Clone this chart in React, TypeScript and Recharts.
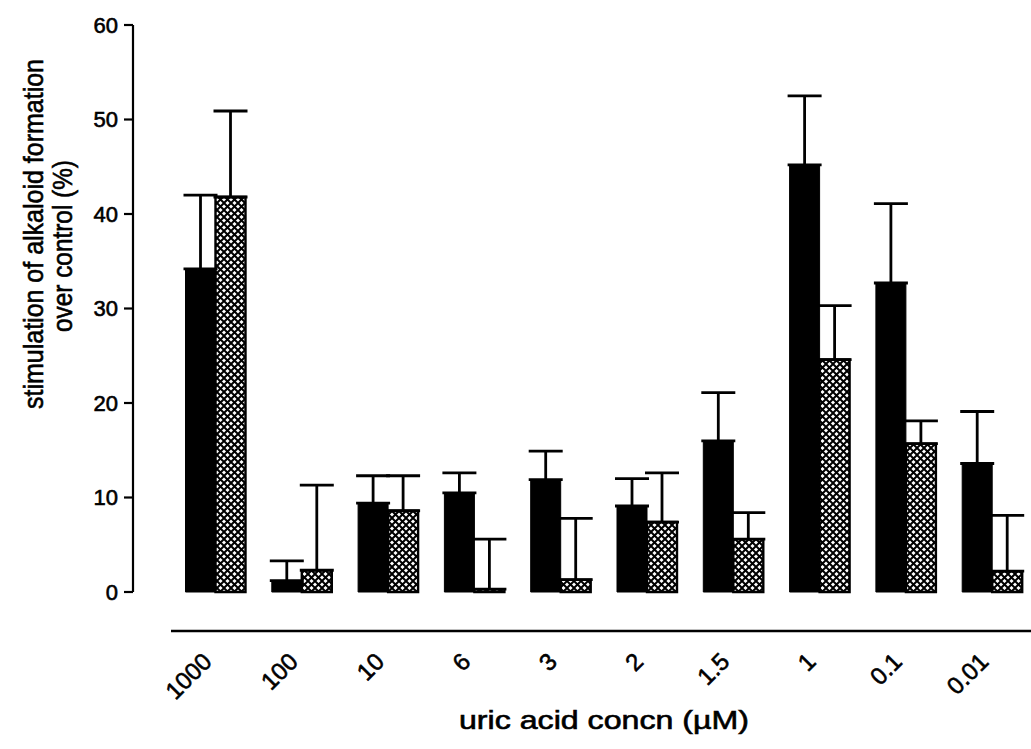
import { BarChart, Bar, XAxis, YAxis, ErrorBar } from "recharts";

const concLabels = ["1000", "100", "10", "6", "3", "2", "1.5", "1", "0.1", "0.01"];
const solidMeans = [34.2, 1.2, 9.4, 10.5, 11.9, 9.1, 16.0, 45.2, 32.7, 13.6];
const solidSem = [7.8, 2.1, 2.9, 2.1, 3.0, 2.9, 5.1, 7.3, 8.4, 5.5];
const hatchedMeans = [41.8, 2.3, 8.6, 0.3, 1.3, 7.4, 5.6, 24.6, 15.7, 2.2];
const hatchedSem = [9.1, 9.0, 3.7, 5.3, 6.5, 5.2, 2.8, 5.7, 2.4, 5.9];
const yTicks = [0, 10, 20, 30, 40, 50, 60];

// upward-only error bars: [below, above]
const data = concLabels.map((conc, i) => ({
  conc,
  solid: solidMeans[i],
  solidErr: [0, solidSem[i]],
  hatched: hatchedMeans[i],
  hatchedErr: [0, hatchedSem[i]],
}));

const font = "'Liberation Sans', Arial, sans-serif";
const PAD_LEFT = 39.5;
// scanned original has heavy glyphs; a thin outline thickens them a bit
const ink = { fill: "#000", stroke: "#000", strokeWidth: 0.6 };

function ConcTick(props: any) {
  const { x, y, payload } = props;
  const tx = x - 2.5;
  const ty = y + 32;
  return (
    <text
      x={tx}
      y={ty}
      transform={`rotate(-45, ${tx}, ${ty})`}
      textAnchor="end"
      fontFamily={font}
      fontSize={24}
      {...ink}
    >
      {payload.value}
    </text>
  );
}

function ValueTick(props: any) {
  const { x, y, payload } = props;
  return (
    <text x={x} y={y} dy="0.36em" textAnchor="end" fontFamily={font} fontSize={22} {...ink}>
      {payload.value}
    </text>
  );
}

function YTitle(props: any) {
  const { viewBox } = props;
  const top = viewBox.y;
  return (
    <g fontFamily={font} fontSize={28} {...ink}>
      <text
        x={43}
        y={top + 209}
        transform={`rotate(-90, 43, ${top + 209})`}
        textAnchor="middle"
        textLength={350}
        lengthAdjust="spacingAndGlyphs"
      >
        stimulation of alkaloid formation
      </text>
      <text
        x={72}
        y={top + 221}
        transform={`rotate(-90, 72, ${top + 221})`}
        textAnchor="middle"
        textLength={172}
        lengthAdjust="spacingAndGlyphs"
      >
        over control (%)
      </text>
    </g>
  );
}

function XTitle(props: any) {
  const { viewBox } = props;
  const cx = viewBox.x + PAD_LEFT + (viewBox.width - PAD_LEFT) / 2;
  return (
    <text
      x={cx}
      y={729}
      textAnchor="middle"
      fontFamily={font}
      fontSize={25}
      textLength={290}
      lengthAdjust="spacingAndGlyphs"
      {...ink}
    >
      uric acid concn (µM)
    </text>
  );
}

export default function App() {
  return (
    <div style={{ width: 1031, height: 749, background: "#fff" }}>
      <style>{"body{margin:0}"}</style>
      <BarChart
        width={1031}
        height={749}
        data={data}
        margin={{ top: 25, right: -4.5, left: 0, bottom: 0 }}
        barSize={30}
        barGap={0}
      >
        <defs>
          <pattern id="xhatch" width={7} height={7} patternUnits="userSpaceOnUse">
            <rect width={7} height={7} fill="#fff" />
            <path d="M0,0 L7,7 M7,0 L0,7" stroke="#000" strokeWidth={2} />
          </pattern>
        </defs>
        <XAxis
          xAxisId="bars"
          dataKey="conc"
          height={39}
          axisLine={false}
          tickLine={false}
          tick={false}
          padding={{ left: PAD_LEFT, right: 0 }}
        />
        <XAxis
          xAxisId="labels"
          dataKey="conc"
          height={118}
          interval={0}
          tickLine={false}
          tickSize={0}
          tickMargin={0}
          axisLine={{ stroke: "#000", strokeWidth: 2.5, strokeDasharray: "0 38 3000" }}
          tick={<ConcTick />}
          padding={{ left: PAD_LEFT, right: 0 }}
          label={<XTitle />}
        />
        <YAxis
          width={133}
          domain={[0, 60]}
          ticks={yTicks}
          interval={0}
          axisLine={{ stroke: "#000", strokeWidth: 2.2 }}
          tickLine={{ stroke: "#000", strokeWidth: 2.2 }}
          tickSize={9}
          tickMargin={6}
          tick={<ValueTick />}
          label={<YTitle />}
        />
        <Bar xAxisId="bars" dataKey="solid" fill="#000" stroke="#000" strokeWidth={1} isAnimationActive={false}>
          <ErrorBar dataKey="solidErr" direction="y" width={17} stroke="#000" strokeWidth={2.8} />
        </Bar>
        <Bar xAxisId="bars" dataKey="hatched" fill="url(#xhatch)" stroke="#000" strokeWidth={2.4} isAnimationActive={false}>
          <ErrorBar dataKey="hatchedErr" direction="y" width={17} stroke="#000" strokeWidth={2.8} />
        </Bar>
      </BarChart>
    </div>
  );
}
